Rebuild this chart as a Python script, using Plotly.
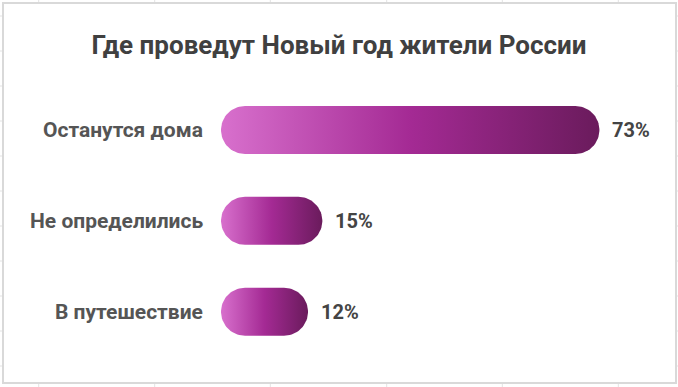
import numpy as np
import plotly.graph_objects as go

# ---- data ----
title_text = "Где проведут Новый год жители России"
categories = ["Останутся дома", "Не определились", "В путешествие"]
values = [73, 15, 12]
value_labels = ["73%", "15%", "12%"]

# ---- layout geometry (pixels) ----
W, H = 678, 387
X_ZERO_PX = 250.7      # pixel of value 0
PX_PER_UNIT = 4.777    # pixels per percent
BAR_LEFT_PX = 221      # rounded bar starts here
ROW0_PX = 130          # centre of first row
ROW_STEP_PX = 90.85    # row spacing
BAR_H_PX = 48

x_min = -X_ZERO_PX / PX_PER_UNIT
x_max = x_min + W / PX_PER_UNIT
y_top = -ROW0_PX / ROW_STEP_PX
y_bottom = (H - ROW0_PX) / ROW_STEP_PX

rx = (BAR_H_PX / 2) / PX_PER_UNIT
ry = (BAR_H_PX / 2) / ROW_STEP_PX
bar_start = (BAR_LEFT_PX - X_ZERO_PX) / PX_PER_UNIT

grad = [[0.0, "#d870cd"], [0.5, "#a42a94"], [1.0, "#6a1b5c"]]

fig = go.Figure()

for i, (cat, v) in enumerate(zip(categories, values)):
    L, R = bar_start, v
    t_r = np.linspace(-np.pi / 2, np.pi / 2, 40)
    t_l = np.linspace(np.pi / 2, 3 * np.pi / 2, 40)
    xs = np.concatenate([(R - rx) + rx * np.cos(t_r), (L + rx) + rx * np.cos(t_l)])
    ys = np.concatenate([i - ry * np.sin(t_r), i - ry * np.sin(t_l)])
    xs = np.append(xs, xs[0])
    ys = np.append(ys, ys[0])
    fig.add_trace(go.Scatter(
        x=xs, y=ys, mode="lines", fill="toself",
        line=dict(width=0, color="rgba(0,0,0,0)"),
        fillgradient=dict(type="horizontal", colorscale=grad),
        hoverinfo="skip", showlegend=False,
    ))

annotations = []
for i, (cat, v, lab) in enumerate(zip(categories, values, value_labels)):
    annotations.append(dict(
        x=205 / W, xref="paper", y=i, yref="y", text=cat, showarrow=False,
        xanchor="right", yanchor="middle",
        font=dict(family="Roboto", size=21, color="#555555", weight="bold"),
    ))
    annotations.append(dict(
        x=v, xref="x", y=i, yref="y", text=lab, showarrow=False,
        xanchor="left", yanchor="middle", xshift=11,
        font=dict(family="Roboto", size=20, color="#444444", weight="bold"),
    ))

shapes = []
grid_col = "#e3e3e3"
for gx in [38.7, 154.7, 270.3, 386.7, 502.3, 618.3]:
    shapes.append(dict(type="line", xref="paper", yref="paper", x0=gx / W, x1=gx / W,
                       y0=0, y1=1, line=dict(color=grid_col, width=1), layer="below"))
for gy in range(16, 387, 35):
    shapes.append(dict(type="line", xref="paper", yref="paper", x0=0, x1=1,
                       y0=1 - gy / H, y1=1 - gy / H, line=dict(color=grid_col, width=1), layer="below"))
shapes.append(dict(type="rect", xref="paper", yref="paper",
                   x0=3 / W, x1=676 / W, y0=1 - 383 / H, y1=1 - 3 / H,
                   fillcolor="white", line=dict(color="#d9d9d9", width=2), layer="below"))

fig.update_layout(
    width=W, height=H, autosize=False,
    margin=dict(l=0, r=0, t=0, b=0, pad=0),
    paper_bgcolor="white", plot_bgcolor="rgba(0,0,0,0)",
    title=dict(text=title_text, x=0.5, xanchor="center", xref="paper",
               y=1 - 45 / H, yanchor="middle", yref="paper",
               font=dict(family="Roboto", size=26, color="#404040", weight="bold")),
    xaxis=dict(range=[x_min, x_max], visible=False, fixedrange=True),
    yaxis=dict(range=[y_bottom, y_top], visible=False, fixedrange=True),
    annotations=annotations, shapes=shapes,
)

fig.write_html("out.html", config={"displayModeBar": False},
               post_script="document.body.style.margin='0';document.body.style.padding='0';")
